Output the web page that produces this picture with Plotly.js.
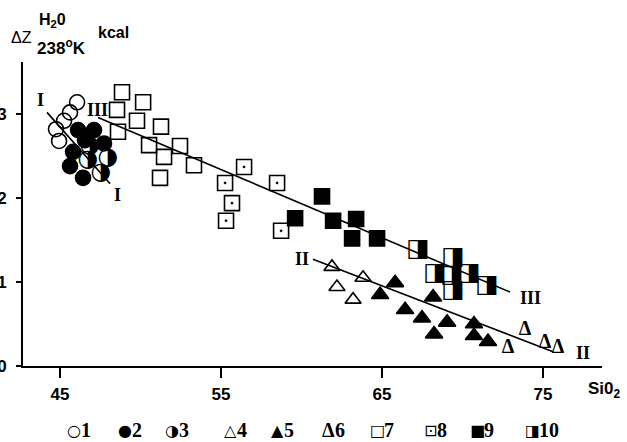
<!DOCTYPE html>
<html>
<head>
<meta charset="utf-8">
<script src="https://cdn.plot.ly/plotly-3.0.1.min.js"></script>
<style>html,body{margin:0;padding:0;background:#fff;}</style>
</head>
<body>
<div id="chart" style="width:627px;height:442px;"></div>
<script>
// ---- data (SiO2, ΔZ kcal) ----
const g1_x = [46.06, 45.62, 45.25, 44.75, 44.94];
const g1_y = [3.14, 3.02, 2.92, 2.82, 2.68];
const g2_x = [46.12, 47.11, 46.55, 47.73, 45.81, 45.62, 46.43];
const g2_y = [2.81, 2.81, 2.69, 2.65, 2.55, 2.38, 2.24];
const g3_x = [46.86, 47.98, 46.74, 47.55];
const g3_y = [2.62, 2.48, 2.45, 2.30];
const g4_x = [61.89, 63.82, 62.20, 63.20];
const g4_y = [1.18, 1.05, 0.94, 0.79];
const g5_x = [65.81, 64.88, 68.17, 66.43, 67.48, 69.04, 68.23, 70.71, 70.71, 71.58];
const g5_y = [0.99, 0.85, 0.82, 0.67, 0.57, 0.52, 0.38, 0.50, 0.36, 0.29];
const g6_x = [73.88, 72.83, 75.12, 75.93];
const g6_y = [0.43, 0.21, 0.27, 0.21];
const g7_x = [48.85, 50.16, 48.54, 49.78, 51.27, 48.60, 50.53, 52.45, 51.46, 53.32, 51.21];
const g7_y = [3.26, 3.14, 3.05, 2.92, 2.85, 2.79, 2.63, 2.62, 2.49, 2.39, 2.24];
const g8_x = [56.43, 55.25, 55.68, 55.31, 58.48, 58.73];
const g8_y = [2.37, 2.18, 1.94, 1.73, 2.18, 1.61];
const g9_x = [61.27, 59.60, 61.96, 63.39, 63.14, 64.69];
const g9_y = [2.02, 1.76, 1.73, 1.75, 1.52, 1.52];
const g10_x = [67.24, 69.41, 68.29, 69.35, 70.40, 69.41, 71.52];
const g10_y = [1.39, 1.29, 1.10, 1.07, 1.10, 0.90, 0.96];

const lineI_x = [44.19, 48.11],  lineI_y = [3.02, 2.17];
const lineII_x = [60.71, 75.62], lineII_y = [1.27, 0.17];
const lineIII_x = [47.36, 72.95], lineIII_y = [2.96, 0.88];

const lineLabels = ['I', 'I', 'II', 'II', 'III', 'III'];
const lineLabel_x = [43.76, 48.54, 60.03, 77.48, 47.30, 74.19];
const lineLabel_y = [3.17, 2.04, 1.27, 0.15, 3.05, 0.81];

const xTicks = [45, 55, 65, 75];
const yTicks = [0, 1, 2, 3];

const legendNumbers = ['1','2','3','4','5','6','7','8','9','10'];
const legendGlyphs = ['\u25CB','\u25CF','\u25D1','\u25B3','\u25B2','\u0394','\u25A1','\u22A1','\u25A0','\u25E8'];

// ---- layout helpers ----
const L = 23, R = 602, T = 62, B = 366;
const px2x = p => (p - L) / (R - L);
const px2y = p => (B - p) / (B - T);

const K = '#000';
function mk(x, y, symbol, size, extra) {
  return Object.assign({
    x: x, y: y, type: 'scatter', mode: 'markers', cliponaxis: false,
    marker: {symbol: symbol, size: size, color: K, line: {color: K, width: 1.6}}
  }, extra || {});
}
function glyph(x, y, ch, font, size, weight) {
  return {
    x: x, y: y, type: 'scatter', mode: 'text', cliponaxis: false,
    text: x.map(() => ch), textposition: 'middle center',
    textfont: {family: font, size: size, color: K, weight: weight || 'normal'}
  };
}
function ln(x, y) {
  return {x: x, y: y, type: 'scatter', mode: 'lines', line: {color: K, width: 1.6}};
}

const traces = [
  mk(g1_x, g1_y, 'circle-open', 15),
  mk(g2_x, g2_y, 'circle', 15),
  glyph(g3_x, g3_y, '\u25D1', 'DejaVu Sans', 24),
  mk(g4_x, g4_y, 'triangle-up-open', 14),
  mk(g5_x, g5_y, 'triangle-up', 15),
  glyph(g6_x, g6_y, '\u0394', 'Liberation Serif', 20, 'bold'),
  mk(g7_x, g7_y, 'square-open', 15),
  mk(g8_x, g8_y, 'square-open-dot', 15),
  mk(g9_x, g9_y, 'square', 15),
  glyph(g10_x, g10_y, '\u25E8', 'DejaVu Sans', 25),
  ln(lineI_x, lineI_y),
  ln(lineII_x, lineII_y),
  ln(lineIII_x, lineIII_y)
];

const serifBold = {family: 'Liberation Serif', size: 18, color: K, weight: 'bold'};
const sansBold = {family: 'Liberation Sans', size: 17, color: K, weight: 'bold'};

const annotations = [];
lineLabels.forEach((t, i) => annotations.push({
  x: lineLabel_x[i], y: lineLabel_y[i], xref: 'x', yref: 'y', text: t,
  showarrow: false, font: serifBold
}));

// axis-title block
annotations.push({xref: 'paper', yref: 'paper', x: px2x(9), y: px2y(37), xanchor: 'left', yanchor: 'middle',
  text: '\u0394Z', showarrow: false, font: {family: 'Liberation Sans', size: 16, color: K}});
annotations.push({xref: 'paper', yref: 'paper', x: px2x(37), y: px2y(21), xanchor: 'left', yanchor: 'middle',
  text: 'H<sub>2</sub>0', showarrow: false, font: {family: 'Liberation Sans', size: 16, color: K, weight: 'bold'}});
annotations.push({xref: 'paper', yref: 'paper', x: px2x(35), y: px2y(47), xanchor: 'left', yanchor: 'middle',
  text: '238<sup>o</sup>K', showarrow: false, font: {family: 'Liberation Sans', size: 17, color: K, weight: 'bold'}});
annotations.push({xref: 'paper', yref: 'paper', x: px2x(96), y: px2y(33), xanchor: 'left', yanchor: 'middle',
  text: 'kcal', showarrow: false, font: {family: 'Liberation Sans', size: 16, color: K, weight: 'bold'}});
annotations.push({xref: 'paper', yref: 'paper', x: px2x(586), y: px2y(390), xanchor: 'left', yanchor: 'middle',
  text: 'Si0<sub>2</sub>', showarrow: false, font: sansBold});

// legend row
const legGlyphX = [74, 125, 172, 230, 277, 328, 377, 430, 477, 532];
const legY = 430;
legendGlyphs.forEach((g, i) => {
  const isDelta = g === '\u0394';
  annotations.push({xref: 'paper', yref: 'paper', x: px2x(legGlyphX[i]), y: px2y(legY), xanchor: 'center', yanchor: 'middle',
    text: g, showarrow: false,
    font: isDelta ? {family: 'Liberation Serif', size: 20, color: K, weight: 'bold'} : {family: 'DejaVu Sans', size: 16, color: K}});
  annotations.push({xref: 'paper', yref: 'paper', x: px2x(legGlyphX[i] + 5), y: px2y(legY), xanchor: 'left', yanchor: 'middle',
    text: legendNumbers[i], showarrow: false, font: {family: 'Liberation Serif', size: 20, color: K, weight: 'bold'}});
});

const layout = {
  width: 627, height: 442,
  margin: {l: L, r: 627 - R, t: T, b: 442 - B, pad: 0},
  paper_bgcolor: '#fff', plot_bgcolor: '#fff',
  showlegend: false, hovermode: false,
  xaxis: {
    range: [42.70, 78.66], tickvals: xTicks, ticktext: xTicks.map(String),
    showgrid: false, zeroline: false, showline: true, linecolor: K, linewidth: 2,
    ticks: 'outside', ticklen: 10, tickwidth: 1.5, tickcolor: K,
    tickfont: sansBold, ticklabelstandoff: 2
  },
  yaxis: {
    range: [0, 3.62], tickvals: yTicks, ticktext: yTicks.map(String),
    showgrid: false, zeroline: false, showline: true, linecolor: K, linewidth: 2,
    ticks: 'outside', ticklen: 5, tickwidth: 1.5, tickcolor: K,
    tickfont: sansBold, ticklabelstandoff: 6
  },
  annotations: annotations
};

Plotly.newPlot('chart', traces, layout, {staticPlot: true, displayModeBar: false});
</script>
</body>
</html>
